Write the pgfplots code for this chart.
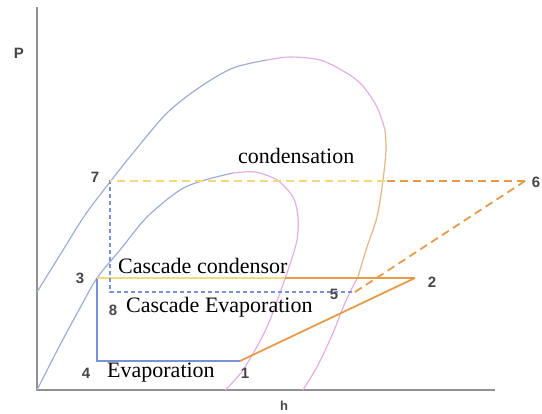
\documentclass[border=0pt]{standalone}
\usepackage{pgfplots}
\pgfplotsset{compat=1.18}
\usepackage{fontspec}
\setmainfont{Liberation Serif}
\newfontfamily\numfont{Liberation Sans}

\definecolor{domeblue}{RGB}{160,172,215}
\definecolor{cycblue}{RGB}{120,145,215}
\definecolor{cycorange}{RGB}{230,155,75}
\definecolor{cycyellow}{RGB}{240,218,125}
\definecolor{domepink}{RGB}{228,175,228}
\definecolor{domeorange}{RGB}{228,182,130}
\definecolor{axgray}{RGB}{145,145,145}
\definecolor{numgray}{RGB}{70,70,70}

\tikzset{
  num/.style={font=\numfont\bfseries\fontsize{15bp}{17bp}\selectfont, text=numgray, inner sep=0pt},
  lbl/.style={font=\fontsize{22bp}{26bp}\selectfont, inner sep=0pt, anchor=base west},
}

\begin{document}
\begin{tikzpicture}
\begin{axis}[
  width=542bp, height=414bp, scale only axis,
  xmin=0, xmax=542, ymin=0, ymax=414, y dir=reverse,
  hide axis, clip=false,
  every axis plot/.append style={no marks},
]
\coordinate (bbll) at (axis cs:0,414);
\coordinate (bbur) at (axis cs:542,0);

% axes
\addplot[axgray, line width=1.8bp] coordinates {(37,7) (37,390) (495,390)};

% outer saturation dome
\addplot[domeblue, line width=1.2bp, smooth] coordinates {
 (37,292) (60,255) (85,215) (110,182) (133,153) (167,113) (200,87) (233,68) (267,60)};
\addplot[domepink, line width=1.2bp, smooth] coordinates {
 (267,60) (290,57) (320,60) (345,72) (362,85) (377,107) (385,130)};
\addplot[domeorange, line width=1.2bp, smooth] coordinates {
 (385,130) (386,150) (383,180) (377,217) (367,247) (358,277)};
\addplot[domepink, line width=1.2bp, smooth] coordinates {
 (358,277) (350,292) (342,310) (333,333) (318,365) (303,390)};

% inner saturation dome
\addplot[domeblue, line width=1.2bp, smooth] coordinates {
 (37,390) (60,345) (80,308) (97,278) (120,250) (147,217) (180,190) (205,180) (233,173)};
\addplot[domepink, line width=1.2bp, smooth] coordinates {
 (233,173) (255,172) (277,180) (293,197) (298,217) (297,240) (288,270) (267,327) (243,370) (225,390)};

% low-stage cycle (solid)
\addplot[cycblue, line width=1.8bp] coordinates {(97,278) (97,361) (240,361)};
\addplot[cycorange, line width=1.8bp] coordinates {(240,361) (415,278)};
\addplot[cycyellow, line width=1.8bp] coordinates {(97,278) (285,278)};
\addplot[cycorange, line width=1.8bp] coordinates {(285,278) (415,278)};

% high-stage cycle (dashed)
\addplot[cycblue, line width=1.6bp, dash pattern=on 4bp off 3bp] coordinates {(110,180) (110,292) (355,292)};
\addplot[cycorange, line width=1.8bp, dash pattern=on 8bp off 5bp] coordinates {(355,292) (525,181)};
\addplot[cycorange, line width=1.8bp, dash pattern=on 8bp off 5bp] coordinates {(525,181) (385,181)};
\addplot[cycyellow, line width=1.8bp, dash pattern=on 8bp off 5bp] coordinates {(385,181) (110,181)};

% point numbers
\node[num] at (axis cs:95,177) {7};
\node[num] at (axis cs:80,278) {3};
\node[num] at (axis cs:113,310) {8};
\node[num] at (axis cs:86,373) {4};
\node[num] at (axis cs:245,373) {1};
\node[num] at (axis cs:432,282) {2};
\node[num] at (axis cs:334,294) {5};
\node[num] at (axis cs:536,182) {6};
\node[num] at (axis cs:19,53) {P};
\node[num, font=\numfont\bfseries\fontsize{13bp}{15bp}\selectfont] at (axis cs:284,406) {h};

% process labels
\node[lbl] at (axis cs:238,163) {condensation};
\node[lbl] at (axis cs:118,273) {Cascade condensor};
\node[lbl] at (axis cs:126,312) {Cascade Evaporation};
\node[lbl] at (axis cs:107,377) {Evaporation};
\end{axis}
\pgfresetboundingbox
\path[use as bounding box] (bbll) rectangle (bbur);
\end{tikzpicture}
\end{document}
